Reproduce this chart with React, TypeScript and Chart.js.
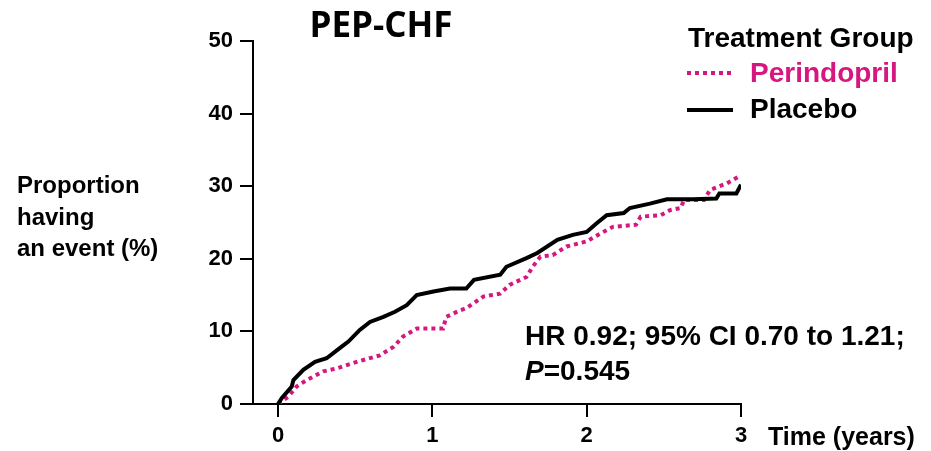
import React, { useEffect, useRef } from "react";
import { Chart, registerables } from "chart.js";

Chart.register(...registerables);

const chartTitle = "PEP-CHF";
const legendTitle = "Treatment Group";
const seriesNames = ["Perindopril", "Placebo"];
const xTicks = [0, 1, 2, 3];
const yTicks = [0, 10, 20, 30, 40, 50];
const yTitleLines = ["Proportion", "having", "an event (%)"];
const xTitle = "Time (years)";
const hrText = "HR 0.92; 95% CI 0.70 to 1.21;";
const pLabel = "P";
const pValueText = "=0.545";

const perindoprilTimes = [0, 0.067, 0.12, 0.186, 0.294, 0.38, 0.51, 0.66, 0.75, 0.81, 0.9, 1.07, 1.09, 1.18, 1.22, 1.33, 1.44, 1.5, 1.61, 1.65, 1.7, 1.78, 1.87, 2.0, 2.09, 2.17, 2.32, 2.35, 2.48, 2.54, 2.61, 2.63, 2.76, 2.8, 2.91, 3.0];
const perindoprilValues = [0, 1.0, 2.4, 3.3, 4.5, 4.9, 5.8, 6.7, 7.9, 9.3, 10.4, 10.4, 12.0, 12.9, 13.2, 14.8, 15.2, 16.4, 17.5, 18.9, 20.3, 20.5, 21.7, 22.4, 23.5, 24.4, 24.7, 25.8, 26.0, 26.7, 27.0, 28.1, 28.1, 29.5, 30.4, 31.5];

const placeboTimes = [0, 0.024, 0.089, 0.1, 0.164, 0.24, 0.315, 0.4, 0.456, 0.53, 0.596, 0.683, 0.758, 0.834, 0.899, 1.007, 1.115, 1.22, 1.27, 1.44, 1.48, 1.61, 1.68, 1.81, 1.91, 2.0, 2.065, 2.13, 2.24, 2.28, 2.41, 2.52, 2.69, 2.84, 2.86, 2.97, 3.0];
const placeboValues = [0, 0.8, 2.4, 3.3, 4.7, 5.8, 6.3, 7.7, 8.6, 10.2, 11.3, 12.0, 12.7, 13.6, 15.0, 15.5, 15.9, 15.9, 17.1, 17.8, 18.9, 20.1, 20.8, 22.6, 23.3, 23.7, 24.9, 26.0, 26.3, 27.0, 27.6, 28.2, 28.2, 28.3, 29.0, 29.0, 30.2];

const MAGENTA = "#d6177f";
const ARIAL = '"Liberation Sans", Arial, sans-serif';

const overlayPlugin = {
  id: "overlayText",
  afterDraw(chart: any) {
    const ctx = chart.ctx as CanvasRenderingContext2D;
    ctx.save();
    ctx.textBaseline = "alphabetic";
    // title
    ctx.fillStyle = "#000";
    ctx.font = 'bold 35px "Open Sans", sans-serif';
    ctx.textAlign = "center";
    ctx.fillText(chartTitle, 381, 37);
    ctx.textAlign = "left";
    // y title
    ctx.font = `bold 24px ${ARIAL}`;
    const yBase = [193, 225, 256];
    yTitleLines.forEach((l, i) => ctx.fillText(l, 17, yBase[i]));
    // x title
    ctx.font = `bold 25px ${ARIAL}`;
    ctx.fillText(xTitle, 768, 445);
    // legend
    ctx.font = `bold 28px ${ARIAL}`;
    ctx.fillText(legendTitle, 688, 47);
    ctx.fillStyle = MAGENTA;
    ctx.fillText(seriesNames[0], 750, 82);
    ctx.fillStyle = "#000";
    ctx.fillText(seriesNames[1], 750, 118);
    ctx.lineWidth = 4;
    ctx.lineCap = "butt";
    ctx.strokeStyle = MAGENTA;
    ctx.setLineDash([4, 4]);
    ctx.beginPath();
    ctx.moveTo(687, 73);
    ctx.lineTo(735, 73);
    ctx.stroke();
    ctx.setLineDash([]);
    ctx.strokeStyle = "#000";
    ctx.beginPath();
    ctx.moveTo(687, 110);
    ctx.lineTo(733, 110);
    ctx.stroke();
    // annotation
    ctx.fillStyle = "#000";
    ctx.font = `bold 28px ${ARIAL}`;
    ctx.fillText(hrText, 525, 345);
    ctx.font = `italic bold 28px ${ARIAL}`;
    ctx.fillText(pLabel, 525, 380);
    const pw = ctx.measureText(pLabel).width;
    ctx.font = `bold 28px ${ARIAL}`;
    ctx.fillText(pValueText, 525 + pw, 380);
    ctx.restore();
  },
};

export default function App() {
  const ref = useRef<HTMLCanvasElement>(null);
  useEffect(() => {
    if (!ref.current) return;
    const chart = new Chart(ref.current, {
      type: "line",
      data: {
        datasets: [
          {
            label: seriesNames[1],
            data: placeboTimes.map((t, i) => ({ x: t, y: placeboValues[i] })),
            borderColor: "#000",
            borderWidth: 4,
            pointRadius: 0,
            tension: 0,
            fill: false,
          },
          {
            label: seriesNames[0],
            data: perindoprilTimes.map((t, i) => ({ x: t, y: perindoprilValues[i] })),
            borderColor: MAGENTA,
            borderWidth: 4,
            borderDash: [4, 4],
            borderCapStyle: "butt",
            pointRadius: 0,
            tension: 0,
            fill: false,
          },
        ],
      },
      options: {
        animation: false,
        responsive: false,
        maintainAspectRatio: false,
        layout: { padding: { left: 0, right: 190, top: 41, bottom: 0 } },
        plugins: { legend: { display: false }, title: { display: false }, tooltip: { enabled: false } },
        scales: {
          x: {
            type: "linear",
            min: -0.162,
            max: 3,
            afterBuildTicks: (scale: any) => {
              scale.ticks = xTicks.map((v) => ({ value: v }));
            },
            afterFit: (scale: any) => {
              scale.height = 47;
            },
            grid: { drawOnChartArea: false, drawTicks: true, tickLength: 13, color: "#000", lineWidth: 2 },
            border: { display: true, color: "#000", width: 2 },
            ticks: {
              color: "#000",
              font: { family: ARIAL, size: 22, weight: "bold" },
              padding: 6,
              maxRotation: 0,
              callback: (v: any) => String(v),
            },
          },
          y: {
            type: "linear",
            min: 0,
            max: 50,
            afterBuildTicks: (scale: any) => {
              scale.ticks = yTicks.map((v) => ({ value: v }));
            },
            afterFit: (scale: any) => {
              scale.width = 253;
            },
            grid: { drawOnChartArea: false, drawTicks: true, tickLength: 13, color: "#000", lineWidth: 2 },
            border: { display: true, color: "#000", width: 2 },
            ticks: {
              color: "#000",
              font: { family: ARIAL, size: 22, weight: "bold" },
              padding: 7,
              callback: (v: any) => String(v),
            },
          },
        },
      } as any,
      plugins: [overlayPlugin],
    });
    return () => chart.destroy();
  }, []);
  return (
    <div style={{ position: "fixed", left: 0, top: 0, width: 931, height: 451, background: "#fff" }}>
      <canvas ref={ref} width={931} height={451} style={{ width: 931, height: 451 }} />
    </div>
  );
}
